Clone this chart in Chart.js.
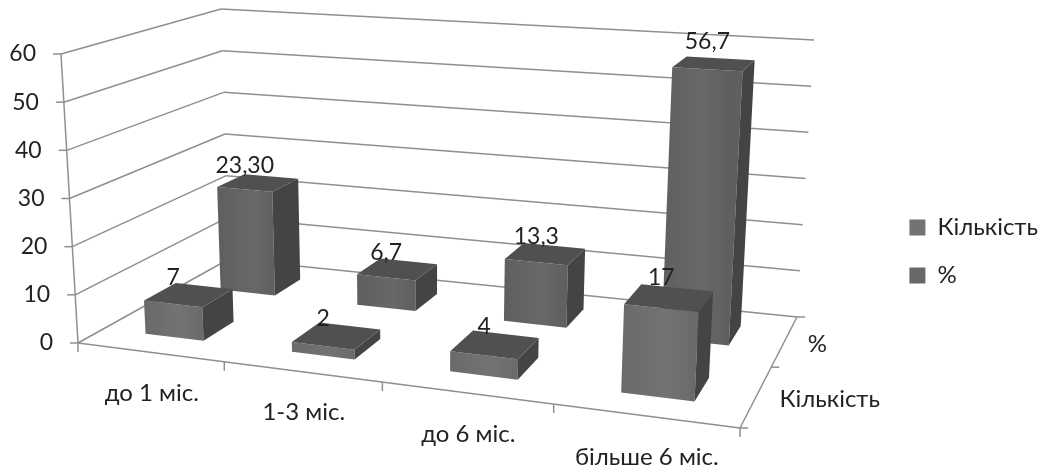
<!DOCTYPE html>
<html>
<head>
<meta charset="utf-8">
<style>
  html, body { margin: 0; background: #fff; }
  canvas { display: block; }
</style>
<script src="https://cdn.jsdelivr.net/npm/chart.js@4"></script>
</head>
<body>
<canvas id="myChart" width="1043" height="475"></canvas>
<script>
const categories = ["до 1 міс.", "1-3 міс.", "до 6 міс.", "більше 6 міс."];
const seriesNames = ["Кількість", "%"];
const countValues = [7, 2, 4, 17];
const percentValues = [23.3, 6.7, 13.3, 56.7];
const countLabels = ["7", "2", "4", "17"];
const percentLabels = ["23,30", "6,7", "13,3", "56,7"];

// corners of the 3d box on screen: front-left, front-right, back-right, back-left
const floorQuad = [[78, 343], [740, 428], [797, 317], [229, 259]];
const ceilQuad = [[61, 54], [757, 100], [814, 40], [221, 9]];
const barDepth = 0.2;
const textColor = "#222";
const gridColor = "#8f8f8f";
const fontName = "Lato, 'Open Sans', sans-serif";

// unit square -> quad (homography), so the perspective comes out right
function quadMap(q) {
  const [p0, p1, p2, p3] = q;
  const dx1 = p1[0] - p2[0], dx2 = p3[0] - p2[0], sx = p0[0] - p1[0] + p2[0] - p3[0];
  const dy1 = p1[1] - p2[1], dy2 = p3[1] - p2[1], sy = p0[1] - p1[1] + p2[1] - p3[1];
  const den = dx1 * dy2 - dx2 * dy1;
  const g = (sx * dy2 - dx2 * sy) / den;
  const h = (dx1 * sy - sx * dy1) / den;
  const a = p1[0] - p0[0] + g * p1[0], b = p3[0] - p0[0] + h * p3[0];
  const d = p1[1] - p0[1] + g * p1[1], e = p3[1] - p0[1] + h * p3[1];
  return (u, v) => {
    const w = g * u + h * v + 1;
    return [(a * u + b * v + p0[0]) / w, (d * u + e * v + p0[1]) / w];
  };
}
const floorMap = quadMap(floorQuad);
const ceilMap = quadMap(ceilQuad);

function project(u, z, t) {
  const f = floorMap(u, z), c = ceilMap(u, z);
  return [f[0] + (c[0] - f[0]) * t, f[1] + (c[1] - f[1]) * t];
}

function poly(ctx, pts, fill) {
  ctx.beginPath();
  pts.forEach((p, i) => i ? ctx.lineTo(p[0], p[1]) : ctx.moveTo(p[0], p[1]));
  ctx.closePath();
  ctx.fillStyle = fill;
  ctx.fill();
}

function line(ctx, a, b) {
  ctx.beginPath();
  ctx.moveTo(a[0], a[1]);
  ctx.lineTo(b[0], b[1]);
  ctx.stroke();
}

// bar controller that takes the flat bar from the scales and draws it as a box
class Bar3DController extends Chart.BarController {
  draw() {
    const ctx = this.chart.ctx;
    const meta = this._cachedMeta;
    const xs = meta.xScale, ys = meta.yScale;
    const ds = this.getDataset();
    const zc = (meta.index + 0.5) / seriesNames.length;
    const z0 = zc - barDepth / 2, z1 = zc + barDepth / 2;
    ctx.save();
    meta.data.forEach((el, i) => {
      const props = el.getProps(["x", "y", "base", "width"], true);
      const u0 = (props.x - props.width / 2 - xs.left) / xs.width;
      const u1 = (props.x + props.width / 2 - xs.left) / xs.width;
      const t = (ys.bottom - props.y) / ys.height;
      const a = project(u0, z0, 0), b = project(u1, z0, 0), c = project(u1, z1, 0);
      const e = project(u0, z0, t), f = project(u1, z0, t), g = project(u1, z1, t), h = project(u0, z1, t);
      const grad = ctx.createLinearGradient(a[0], 0, b[0], 0);
      grad.addColorStop(0, ds.frontDark);
      grad.addColorStop(0.6, ds.backgroundColor);
      grad.addColorStop(1, ds.frontDark);
      poly(ctx, [a, b, f, e], grad);
      poly(ctx, [b, c, g, f], "#444444");
      poly(ctx, [e, f, g, h], "#505050");
      ctx.fillStyle = textColor;
      ctx.font = "23px " + fontName;
      ctx.textAlign = "center";
      ctx.textBaseline = "alphabetic";
      ctx.fillText(ds.valueLabels[i], (e[0] + f[0]) / 2, (h[1] + g[1]) / 2 - 10 * t);
    });
    ctx.restore();
  }
}
Bar3DController.id = "bar3d";
Bar3DController.defaults = Chart.BarController.defaults;
Chart.register(Bar3DController);

const box3d = {
  id: "box3d",
  beforeDatasetsDraw(chart) {
    const ctx = chart.ctx;
    const ys = chart.scales.y, xs = chart.scales.x;
    ctx.save();
    ctx.strokeStyle = gridColor;
    ctx.lineWidth = 1.5;
    ctx.fillStyle = textColor;

    // walls and the value axis
    ctx.font = "23px " + fontName;
    ctx.textAlign = "right";
    ctx.textBaseline = "middle";
    ys.ticks.forEach(tick => {
      const t = (ys.bottom - ys.getPixelForValue(tick.value)) / ys.height;
      const p = project(0, 0, t), q = project(0, 1, t), r = project(1, 1, t);
      line(ctx, p, q);
      line(ctx, q, r);
      line(ctx, [p[0] - 8, p[1]], p);
      ctx.fillText(tick.label, p[0] - 25, p[1]);
    });
    line(ctx, project(0, 0, 0), project(0, 0, 1));

    // front floor edge with category labels
    ctx.font = "24px " + fontName;
    line(ctx, project(0, 0, 0), project(1, 0, 0));
    ctx.textAlign = "center";
    xs.getLabels().forEach((label, i) => {
      const p = project(i / categories.length, 0, 0);
      line(ctx, p, [p[0], p[1] + 9]);
      const m = project((xs.getPixelForValue(i) - xs.left) / xs.width, 0, 0);
      ctx.fillText(label, m[0] + 2, m[1] + 41);
    });
    const end = project(1, 0, 0);
    line(ctx, end, [end[0], end[1] + 9]);

    // right floor edge with series labels
    line(ctx, project(1, 0, 0), project(1, 1, 0));
    ctx.textAlign = "left";
    seriesNames.forEach((name, i) => {
      const p = project(1, i / seriesNames.length, 0);
      line(ctx, p, [p[0] + 8, p[1]]);
      const m = project(1, (i + 0.5) / seriesNames.length, 0);
      ctx.fillText(name, m[0] + 23, m[1] + 3);
    });
    const back = project(1, 1, 0);
    line(ctx, back, [back[0] + 8, back[1]]);
    ctx.restore();
  }
};

new Chart(document.getElementById("myChart"), {
  type: "bar3d",
  data: {
    labels: categories,
    datasets: [
      { label: seriesNames[0], data: countValues, valueLabels: countLabels, backgroundColor: "#737373", frontDark: "#6a6a6a", clip: false },
      { label: seriesNames[1], data: percentValues, valueLabels: percentLabels, backgroundColor: "#686868", frontDark: "#5f5f5f", clip: false }
    ]
  },
  options: {
    responsive: false,
    animation: false,
    layout: { padding: { top: 28, right: -5 } },
    datasets: { bar3d: { grouped: false, categoryPercentage: 1, barPercentage: 0.405 } },
    scales: {
      x: { type: "category", offset: true, display: false },
      y: { type: "linear", min: 0, max: 60, ticks: { stepSize: 10 }, display: false }
    },
    plugins: {
      tooltip: { enabled: false },
      legend: {
        position: "right",
        labels: { boxWidth: 16, boxHeight: 16, padding: 24, color: textColor, font: { family: fontName, size: 24 } }
      }
    }
  },
  plugins: [box3d]
});
</script>
</body>
</html>
